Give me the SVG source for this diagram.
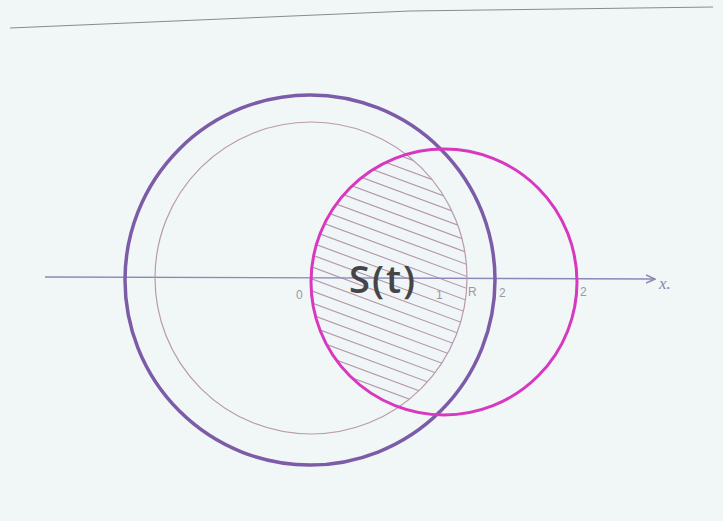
<svg xmlns="http://www.w3.org/2000/svg" width="723" height="521" viewBox="0 0 723 521">
<style>
.lbl{font-family:"Liberation Sans",Arial,sans-serif;fill:#9a98a8;font-size:12px}
.hatch{stroke:#a07f90;stroke-width:1.1;opacity:0.8}
</style>
<defs>
<clipPath id="cm"><circle cx="444" cy="282" r="133"/></clipPath>
<clipPath id="ci"><circle cx="311" cy="278" r="156"/></clipPath>
<marker id="arr" viewBox="0 0 10 10" refX="9" refY="5" markerWidth="10" markerHeight="10" markerUnits="userSpaceOnUse" orient="auto">
<path d="M0,1 L9,5 L0,9" fill="none" stroke="#8a86a8" stroke-width="1.5"/>
</marker>
</defs>
<rect width="723" height="521" fill="#f1f6f7"/>
<path d="M10,28 L410,11 L713,7" fill="none" stroke="#8a8a8a" stroke-width="1"/>
<g id="hatching">
<g clip-path="url(#cm)"><g clip-path="url(#ci)">
<g class="hatch">
<line x1="250" y1="40" x2="560" y2="155"/>
<line x1="250" y1="52" x2="560" y2="167"/>
<line x1="250" y1="64" x2="560" y2="179"/>
<line x1="250" y1="76" x2="560" y2="191"/>
<line x1="250" y1="88" x2="560" y2="203"/>
<line x1="250" y1="100" x2="560" y2="215"/>
<line x1="250" y1="112" x2="560" y2="227"/>
<line x1="250" y1="124" x2="560" y2="239"/>
<line x1="250" y1="136" x2="560" y2="251"/>
<line x1="250" y1="148" x2="560" y2="263"/>
<line x1="250" y1="160" x2="560" y2="275"/>
<line x1="250" y1="172" x2="560" y2="287"/>
<line x1="250" y1="184" x2="560" y2="299"/>
<line x1="250" y1="196" x2="560" y2="311"/>
<line x1="250" y1="208" x2="560" y2="323"/>
<line x1="250" y1="220" x2="560" y2="335"/>
<line x1="250" y1="232" x2="560" y2="347"/>
<line x1="250" y1="244" x2="560" y2="359"/>
<line x1="250" y1="256" x2="560" y2="371"/>
<line x1="250" y1="268" x2="560" y2="383"/>
<line x1="250" y1="280" x2="560" y2="395"/>
<line x1="250" y1="292" x2="560" y2="407"/>
<line x1="250" y1="304" x2="560" y2="419"/>
<line x1="250" y1="316" x2="560" y2="431"/>
<line x1="250" y1="328" x2="560" y2="443"/>
<line x1="250" y1="340" x2="560" y2="455"/>
<line x1="250" y1="352" x2="560" y2="467"/>
<line x1="250" y1="364" x2="560" y2="479"/>
<line x1="250" y1="376" x2="560" y2="491"/>
<line x1="250" y1="388" x2="560" y2="503"/>
</g></g></g>
</g>
<g id="axis">
<line x1="45" y1="277" x2="655" y2="279" stroke="#8f86b8" stroke-width="1.3" marker-end="url(#arr)"/>
<text x="659" y="289" font-family="Liberation Serif,serif" font-style="italic" font-size="17" fill="#8a86a8">x.</text>
</g>
<g id="inner-circle"><circle cx="311" cy="278" r="156" fill="none" stroke="#b89aae" stroke-width="1.2"/></g>
<g id="outer-circle"><circle cx="310" cy="280" r="185" fill="none" stroke="#7c5ca8" stroke-width="3.5"/></g>
<g id="moving-circle"><circle cx="444" cy="282" r="133" fill="none" stroke="#d838c0" stroke-width="3"/></g>
<g id="labels">
<text class="lbl" x="296" y="299">0</text>
<text class="lbl" x="436" y="299" font-size="10">1</text>
<text class="lbl" x="468" y="296" fill="#7a7a88">R</text>
<text class="lbl" x="499" y="297">2</text>
<text class="lbl" x="580" y="296">2</text>
<text x="349" y="293" font-family="Open Sans,Liberation Sans,sans-serif" font-size="38" font-weight="600" letter-spacing="2" fill="#454548">S(t)</text>
</g>
</svg>
